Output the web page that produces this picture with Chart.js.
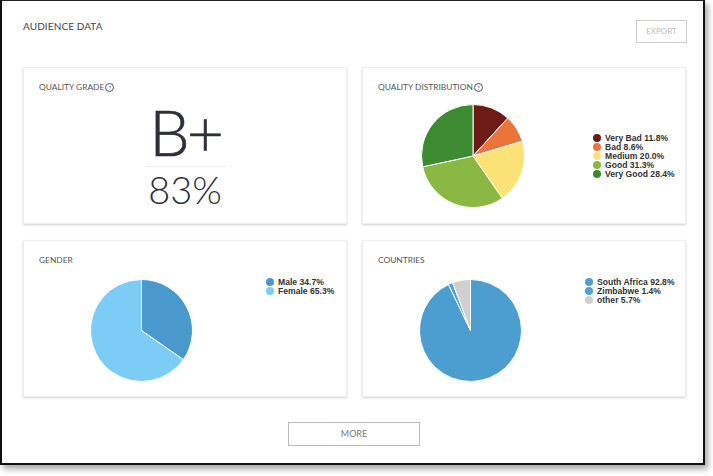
<!DOCTYPE html>
<html>
<head>
<meta charset="utf-8">
<script src="https://cdn.jsdelivr.net/npm/chart.js@4"></script>
<style>
    body { margin: 0; background: #fff; font-family: Lato, "Open Sans", sans-serif; }
    #frame {
        position: absolute; left: 0; top: 0; width: 701px; height: 462px;
        border-left: 2px solid #111; border-right: 2px solid #111; border-bottom: 2px solid #111; border-top: 1px solid #222;
        box-shadow: 3px 4px 6px rgba(0,0,0,0.35);
        background: #fff;
    }
    .pageTitle { position: absolute; left: 21px; top: 19px; font-size: 10px; color: #444; letter-spacing: 0.1px; }
    .btn {
        position: absolute; border: 1px solid #ccc; color: #bbb; text-align: center;
        font-size: 8px; box-sizing: border-box;
    }
    .card {
        position: absolute; width: 324px; height: 157px; box-sizing: border-box;
        border: 1px solid #eee; box-shadow: 0 1px 2px rgba(0,0,0,0.18); background: #fff;
    }
    .cardTitle { position: absolute; left: 15px; top: 14px; font-size: 8.4px; color: #555; }
    .help {
        display: inline-block; width: 7px; height: 7px; border: 1px solid #555; border-radius: 50%;
        font-size: 6px; line-height: 7px; text-align: center; vertical-align: 0px; margin-left: 1px;
    }
    .pie { position: absolute; }
    .legend { position: absolute; font-family: "Liberation Sans", Arial, sans-serif; font-weight: bold; font-size: 8.6px; color: #333; }
    .legend div { height: 9px; line-height: 9px; white-space: nowrap; }
    .legend span { display: inline-block; width: 8px; height: 8px; border-radius: 50%; margin-right: 4px; vertical-align: -1px; }
</style>
</head>
<body>
<div id="frame">
    <div class="pageTitle">AUDIENCE DATA</div>
    <div class="btn" style="left:634px; top:19px; width:51px; height:23px; line-height:21px;">EXPORT</div>

    <div class="card" style="left:21px; top:66px;">
        <div class="cardTitle">QUALITY GRADE<span class="help">?</span></div>
        <div id="grade" style="position:absolute; left:0; width:100%; top:32px; text-align:center; font-size:64px; font-weight:300; color:#2e3038; line-height:64px; letter-spacing:-3px; -webkit-text-stroke:0.6px #2e3038;"></div>
        <div style="position:absolute; left:122px; width:80px; top:98px; border-top:1px solid #eee;"></div>
        <div id="score" style="position:absolute; left:0; width:100%; top:101px; text-align:center; font-size:38px; font-weight:300; color:#2e3038; line-height:40px;"></div>
    </div>

    <div class="card" style="left:360px; top:66px;">
        <div class="cardTitle">QUALITY DISTRIBUTION<span class="help">?</span></div>
    </div>

    <div class="card" style="left:21px; top:239px;">
        <div class="cardTitle">GENDER</div>
    </div>

    <div class="card" style="left:360px; top:239px;">
        <div class="cardTitle">COUNTRIES</div>
    </div>

    <div class="btn" style="left:286px; top:421px; width:132px; height:24px; line-height:22px; color:#777; border-color:#bbb; font-size:9px;">MORE</div>

    <canvas id="qualityPie" class="pie" width="104" height="104" style="left:419px; top:103px;"></canvas>
    <canvas id="genderPie" class="pie" width="103" height="103" style="left:88px; top:278px;"></canvas>
    <canvas id="countryPie" class="pie" width="103" height="103" style="left:417px; top:278px;"></canvas>

    <div id="qualityLegend" class="legend" style="left:591px; top:133px;"></div>
    <div id="genderLegend" class="legend" style="left:264px; top:277px;"></div>
    <div id="countryLegend" class="legend" style="left:583px; top:277px;"></div>
</div>

<script>
const qualityGrade = 'B+';
const qualityScore = 83;

const qualityLabels = ['Very Bad', 'Bad', 'Medium', 'Good', 'Very Good'];
const qualityValues = [11.8, 8.6, 20.0, 31.3, 28.4];
const qualityColors = ['#6f1b15', '#ea743a', '#fbe276', '#8ab943', '#3c8b31'];

const genderLabels = ['Male', 'Female'];
const genderValues = [34.7, 65.3];
const genderColors = ['#4a99cc', '#7bcdf6'];

const countryLabels = ['South Africa', 'Zimbabwe', 'other'];
const countryValues = [92.8, 1.4, 5.7];
const countryColors = ['#4b9ecf', '#4fa2d2', '#d0d0d0'];

function initCharts() {

    document.getElementById('grade').textContent = qualityGrade;
    document.getElementById('score').textContent = qualityScore + '%';

    GeneratePie('qualityPie', 'qualityLegend', qualityLabels, qualityValues, qualityColors);

    GeneratePie('genderPie', 'genderLegend', genderLabels, genderValues, genderColors);

    GeneratePie('countryPie', 'countryLegend', countryLabels, countryValues, countryColors);
}

function GeneratePie(canvasId, legendId, labels, values, colors) {
    var pieControl = document.getElementById(canvasId);

    new Chart(pieControl, {
        type: 'pie',
        data: {
            labels: labels,
            datasets: [{
                data: values,
                backgroundColor: colors,
                borderColor: '#ffffff',
                borderWidth: 1
            }]
        },
        options: {
            animation: false,
            responsive: false,
            layout: {
                padding: 0
            },
            plugins: {
                legend: {
                    display: false
                },
                tooltip: {
                    enabled: false
                }
            }
        }
    });

    //Build the legend next to the pie from the same arrays.
    var legendControl = document.getElementById(legendId);

    for (let i = 0; i < labels.length; i++) {
        var row = document.createElement('div');
        var dot = document.createElement('span');
        dot.style.background = colors[i];
        row.appendChild(dot);
        row.appendChild(document.createTextNode(labels[i] + ' ' + values[i].toFixed(1) + '%'));
        legendControl.appendChild(row);
    }
}

initCharts();
</script>
</body>
</html>
